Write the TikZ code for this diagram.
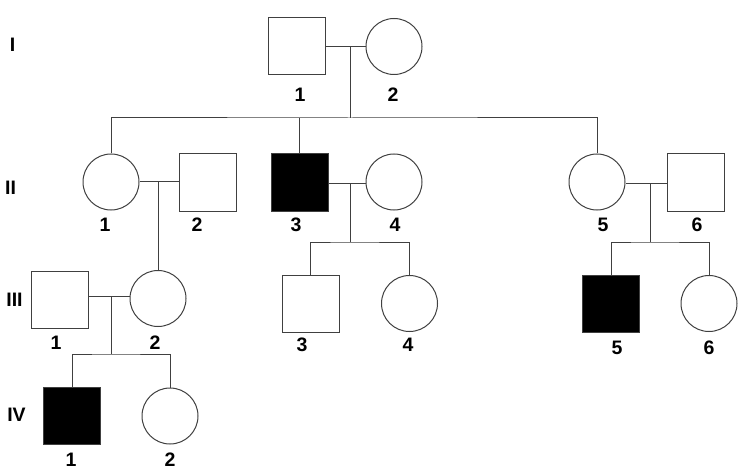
\documentclass[tikz,border=0pt]{standalone}
\usepackage{fontspec}
\setmainfont{Liberation Sans}
\usetikzlibrary{positioning}

\tikzset{
  male/.style={draw, rectangle, minimum size=57pt, inner sep=0pt},
  female/.style={draw, circle, minimum size=56pt, inner sep=0pt},
  affected/.style={fill=black},
  num/.style={font=\fontsize{19.5}{20}\selectfont\bfseries, inner sep=0pt},
  gen/.style={font=\fontsize{19.5}{20}\selectfont\bfseries, inner sep=0pt},
}

\begin{document}
\begin{tikzpicture}[x=1pt, y=-1pt, line width=1pt, draw=black!75]
  \useasboundingbox (0,0) rectangle (749,473);

  \node[gen] (g1) at (12.5,44.5) {I};
  \node[gen] (g2) at (10.5,188) {II};
  \node[gen] (g3) at (14.5,300) {III};
  \node[gen] (g4) at (16.5,414.5) {IV};

  \node[male]   (i1) at (296.5,46.5) {};
  \node[female] (i2) at (394,46.5) {};
  \node[num] (n-i1) at (300,95) {1};
  \node[num] (n-i2) at (393,95) {2};

  \node[female]         (ii1) at (111,182) {};
  \node[male]           (ii2) at (207.5,182.5) {};
  \node[male, affected] (ii3) at (299.5,182.5) {};
  \node[female]         (ii4) at (394,182) {};
  \node[female]         (ii5) at (597,182) {};
  \node[male]           (ii6) at (696,182.5) {};
  \node[num] (n-ii1) at (105,225) {1};
  \node[num] (n-ii2) at (197,225) {2};
  \node[num] (n-ii3) at (296,225) {3};
  \node[num] (n-ii4) at (395,225) {4};
  \node[num] (n-ii5) at (603,225) {5};
  \node[num] (n-ii6) at (697,225) {6};

  \node[male]           (iii1) at (60,300) {};
  \node[female]         (iii2) at (158,298.5) {};
  \node[male]           (iii3) at (310.5,303.5) {};
  \node[female]         (iii4) at (409.5,303.5) {};
  \node[male, affected] (iii5) at (611,303.5) {};
  \node[female]         (iii6) at (709,303.5) {};
  \node[num] (n-iii1) at (56,342.5) {1};
  \node[num] (n-iii2) at (155,342.5) {2};
  \node[num] (n-iii3) at (302,344.5) {3};
  \node[num] (n-iii4) at (408,344.5) {4};
  \node[num] (n-iii5) at (617,348) {5};
  \node[num] (n-iii6) at (709,348) {6};

  \node[male, affected] (iv1) at (72,416) {};
  \node[female]         (iv2) at (170,416) {};
  \node[num] (n-iv1) at (71,460) {1};
  \node[num] (n-iv2) at (170,460) {2};

  \coordinate (m1) at (350,47);
  \coordinate (s1) at (350,118);
  \coordinate (m2) at (158,182);
  \coordinate (m3) at (350,184);
  \coordinate (s3) at (350,242);
  \coordinate (m4) at (650,183.5);
  \coordinate (s4) at (650,242);
  \coordinate (m5) at (111,296);
  \coordinate (s5) at (111,354);

  \draw (i1.east |- m1) -- (i2.west |- m1);
  \draw (m1) -- (s1);
  \draw (ii1.north) |- (s1) -| (ii5.north);
  \draw (s1 -| ii3) -- (ii3.north);

  \draw (ii1.east |- m2) -- (ii2.west |- m2);
  \draw (m2) -- (iii2.north);

  \draw (ii3.east |- m3) -- (ii4.west |- m3);
  \draw (m3) -- (s3);
  \draw (iii3.north) |- (s3) -| (iii4.north);

  \draw (ii5.east |- m4) -- (ii6.west |- m4);
  \draw (m4) -- (s4);
  \draw (iii5.north) |- (s4) -| (iii6.north);

  \draw (iii1.east |- m5) -- (iii2.west |- m5);
  \draw (m5) -- (s5);
  \draw (iv1.north) |- (s5) -| (iv2.north);
\end{tikzpicture}
\end{document}
